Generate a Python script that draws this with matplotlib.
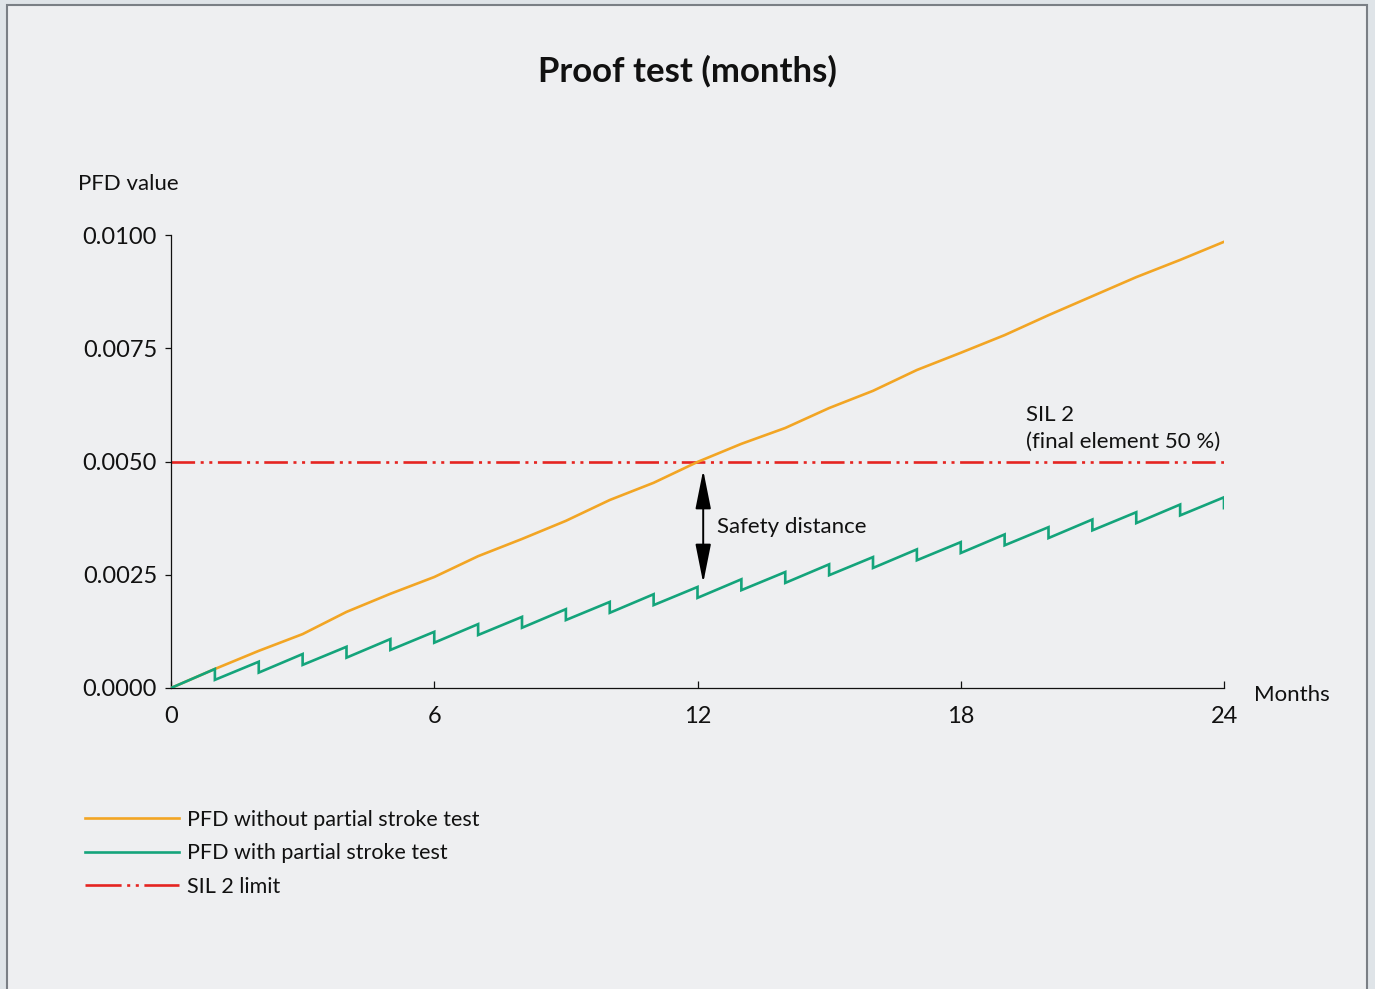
"""Proof test PFD chart: with and without partial stroke test versus SIL 2 limit."""

import matplotlib

matplotlib.use("Agg")
import matplotlib.pyplot as plt  # noqa: E402
from matplotlib.lines import Line2D  # noqa: E402
from matplotlib.patches import FancyArrowPatch, Rectangle  # noqa: E402

# --------------------------------------------------------------------------------------
# Data
# --------------------------------------------------------------------------------------
MONTHS = list(range(25))
PFD_WITHOUT = [
    0.0, 0.00042, 0.00082, 0.00119, 0.00168, 0.00208, 0.00245, 0.00291, 0.00329,
    0.00369, 0.00415, 0.00453, 0.00499, 0.00539, 0.00574, 0.00618, 0.00656,
    0.00702, 0.00740, 0.00779, 0.00823, 0.00865, 0.00907, 0.00945, 0.00985,
]
# Partial stroke test: value just before each monthly test, and just after it.
PST_PEAKS = [
    0.00042, 0.00058, 0.00075, 0.00091, 0.00108, 0.00124, 0.00141, 0.00157,
    0.00174, 0.00190, 0.00207, 0.00223, 0.00240, 0.00256, 0.00273, 0.00289,
    0.00306, 0.00322, 0.00339, 0.00355, 0.00372, 0.00388, 0.00405, 0.00421,
]
PST_TROUGHS = [
    0.00018, 0.00034, 0.00051, 0.00067, 0.00084, 0.00100, 0.00117, 0.00133,
    0.00150, 0.00166, 0.00183, 0.00199, 0.00216, 0.00232, 0.00249, 0.00265,
    0.00282, 0.00298, 0.00315, 0.00331, 0.00348, 0.00364, 0.00381, 0.00397,
]
SIL2_LIMIT = 0.005
X_TICKS = [0, 6, 12, 18, 24]
Y_TICKS = [0.0, 0.0025, 0.005, 0.0075, 0.01]
Y_TICK_LABELS = ["0.0000", "0.0025", "0.0050", "0.0075", "0.0100"]
SAFETY_X = 12.13
SAFETY_RANGE = (0.00481, 0.00232)

ORANGE = "#F2A524"
GREEN = "#14A47B"
RED = "#E52421"
INK = "#111111"
PANEL = "#EEEFF1"
OUTER = "#DFE4E8"
BORDER = "#7A7F85"
FONT = ["Lato", "DejaVu Sans"]
SIL_DASHES = (17, 4, 2.2, 4, 2.2, 4)

plt.rcParams["font.family"] = FONT
plt.rcParams["lines.scale_dashes"] = False


def pst_series():
    xs, ys = [0.0], [0.0]
    for k, (peak, trough) in enumerate(zip(PST_PEAKS, PST_TROUGHS), start=1):
        xs += [k, k]
        ys += [peak, trough]
    return xs, ys


fig = plt.figure(figsize=(13.75, 9.89), dpi=100)
fig.patch.set_facecolor(OUTER)
fig.patches.append(
    Rectangle(
        (6.5 / 1375, -0.01), 1360.5 / 1375, 1 - 4.5 / 989 + 0.01,
        transform=fig.transFigure, facecolor=PANEL, edgecolor=BORDER,
        linewidth=1.5, zorder=-1,
    )
)

ax = fig.add_axes([171 / 1375, 1 - 688 / 989, 1053 / 1375, 453 / 989])
ax.set_facecolor("none")
ax.set_xlim(0, 24)
ax.set_ylim(0, 0.01)
for side in ("top", "right"):
    ax.spines[side].set_visible(False)
for side in ("left", "bottom"):
    ax.spines[side].set_linewidth(0.9)
    ax.spines[side].set_color(INK)

ax.set_xticks(X_TICKS)
ax.set_yticks(Y_TICKS)
ax.set_yticklabels(Y_TICK_LABELS)
ax.tick_params(axis="x", direction="in", length=5, width=0.9, pad=13,
               labelsize=17, colors=INK)
ax.tick_params(axis="y", direction="out", length=4, width=0.9, pad=6,
               labelsize=17, colors=INK)

ax.plot(MONTHS, PFD_WITHOUT, color=ORANGE, linewidth=1.9, zorder=3,
        solid_joinstyle="miter")
xs, ys = pst_series()
ax.plot(xs, ys, color=GREEN, linewidth=1.9, zorder=4, solid_joinstyle="miter")
ax.plot([0, 24], [SIL2_LIMIT, SIL2_LIMIT], color=RED, linewidth=1.9,
        dashes=SIL_DASHES, zorder=2)

ax.add_patch(
    FancyArrowPatch(
        (SAFETY_X, SAFETY_RANGE[0]), (SAFETY_X, SAFETY_RANGE[1]),
        arrowstyle="<|-|>,head_length=1.2,head_width=0.24",
        mutation_scale=20, color="black", linewidth=1.4,
        shrinkA=0, shrinkB=0, zorder=5,
    )
)
ax.text(12.44, 0.00355, "Safety distance", fontsize=16, color=INK,
        ha="left", va="center")
ax.text(19.49, 0.00521, "SIL 2\n(final element 50 %)", fontsize=16,
        color=INK, ha="left", va="bottom", linespacing=1.45)
ax.text(24.68, -0.00015, "Months", fontsize=16, color=INK, ha="left",
        va="center", clip_on=False)

fig.text(0.5, 1 - 71 / 989, "Proof test (months)", fontsize=25,
         fontweight="bold", ha="center", va="center", color=INK)
fig.text(78 / 1375, 1 - 184 / 989, "PFD value", fontsize=16, ha="left",
         va="center", color=INK)

handles = [
    Line2D([], [], color=ORANGE, linewidth=1.9),
    Line2D([], [], color=GREEN, linewidth=1.9),
    Line2D([], [], color=RED, linewidth=1.9, dashes=(26, 4, 2.2, 4, 2.2, 4)),
]
labels = [
    "PFD without partial stroke test",
    "PFD with partial stroke test",
    "SIL 2 limit",
]
fig.legend(
    handles, labels, loc="upper left",
    bbox_to_anchor=(85 / 1375, 1 - 810 / 989), frameon=False, fontsize=15.5,
    handlelength=4.35, handletextpad=0.4, labelspacing=0.62,
    borderpad=0, borderaxespad=0, labelcolor=INK,
)

fig.savefig("out.png", dpi=100, facecolor=fig.get_facecolor())
